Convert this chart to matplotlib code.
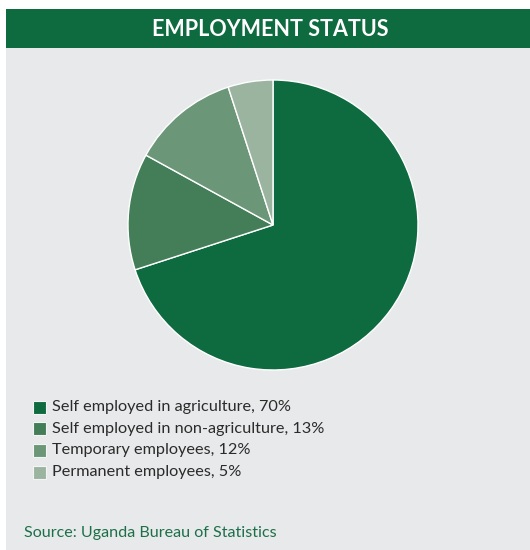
import matplotlib
matplotlib.use("Agg")
import matplotlib.pyplot as plt
from matplotlib.patches import Rectangle

title = "EMPLOYMENT STATUS"
categories = [
    "Self employed in agriculture",
    "Self employed in non-agriculture",
    "Temporary employees",
    "Permanent employees",
]
shares = [70, 13, 12, 5]
colors = ["#0d6b3f", "#437e59", "#6b9778", "#9bb4a0"]
source = "Source: Uganda Bureau of Statistics"

W, H = 530, 550
fig = plt.figure(figsize=(W / 100, H / 100), dpi=100)
fig.patch.set_facecolor("white")
ax = fig.add_axes([0, 0, 1, 1])

FONT = "Lato"

# panel background and header band
ax.add_patch(Rectangle((6, 0), W - 6, H - 48, facecolor="#e8e9eb", edgecolor="none", zorder=0))
ax.add_patch(Rectangle((6, H - 48), W - 6, 39, facecolor="#0e6b3f", edgecolor="none", zorder=1))
ax.text(270, H - 29, title, color="white", fontsize=15.5, fontweight="bold",
        family=FONT, ha="center", va="center", zorder=2)

# pie
ax.pie(shares, colors=colors, startangle=90, counterclock=False,
       center=(273, H - 225), radius=145,
       wedgeprops=dict(edgecolor="white", linewidth=1.0), frame=True)
ax.set_xlim(0, W)
ax.set_ylim(0, H)
ax.set_aspect("equal")
ax.axis("off")

# legend
y0, dy = 407, 21.7
for i, (cat, val, col) in enumerate(zip(categories, shares, colors)):
    yc = H - (y0 + i * dy)
    ax.add_patch(Rectangle((33, yc - 6.5), 13, 13, facecolor=col,
                           edgecolor="#f4f4f4", linewidth=0.8, zorder=3))
    ax.text(52, yc, f"{cat}, {val}%", color="#2b2b2b", fontsize=11.7,
            family=FONT, ha="left", va="center", zorder=3)

ax.text(24, H - 533, source, color="#1c7048", fontsize=11.6,
        family=FONT, ha="left", va="center", zorder=3)

fig.savefig("out.png", dpi=100)
